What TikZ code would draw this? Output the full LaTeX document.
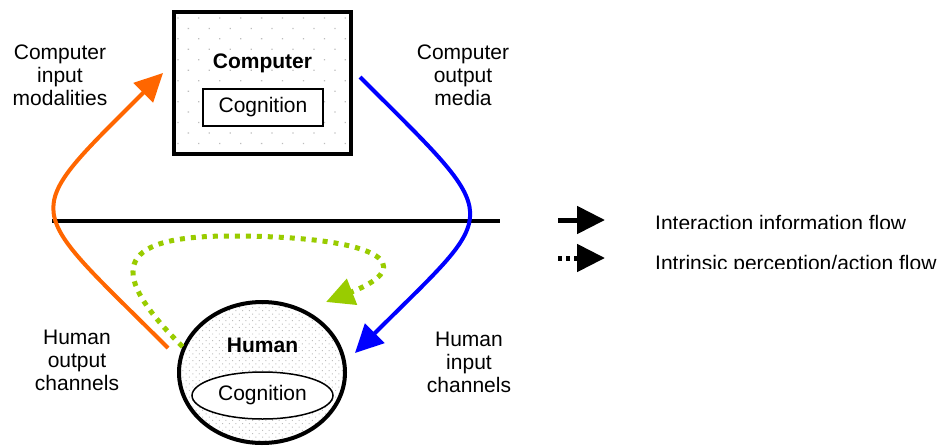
\documentclass[tikz,border=0pt]{standalone}
\usepackage{fontspec}
\setmainfont{Liberation Sans}
\usetikzlibrary{arrows.meta, shapes.geometric, patterns.meta}
\definecolor{inputC}{HTML}{FF6600}
\definecolor{outputC}{HTML}{0000FF}
\definecolor{intrinsicC}{HTML}{99CC00}
\definecolor{frameC}{HTML}{000000}
\definecolor{dotC}{HTML}{BDBDBD}
\definecolor{labelC}{HTML}{000000}
\def\lwFrame{4pt}
\def\lwInner{1.5pt}
\def\lwFlow{4pt}
\def\lwDot{5pt}
\def\lwDivider{3.5pt}
\def\lwLegend{5pt}

\begin{document}
\begin{tikzpicture}[x=1pt, y=-1pt, font=\fontsize{21}{23}\selectfont,
  lbl/.style={labelC, align=center, anchor=north, inner sep=0pt},
  tipBig/.style={-{Triangle[length=28pt, width=27pt]}},
  intrFlow/.style={intrinsicC, line width=\lwDot, dash pattern=on 5pt off 6pt}]

  \useasboundingbox (0,0) rectangle (942,447);

  % Divider between computer and human side
  \draw[frameC, line width=\lwDivider] (52,221) -- (500,221);

  % Computer
  \node[draw=frameC, line width=\lwFrame, minimum width=177pt, minimum height=142pt, inner sep=0pt,
    pattern={Dots[distance=14.8pt, angle=45, radius=0.9pt]}, pattern color=dotC]
    (computer) at (262.5,83) {};
  \node[labelC, anchor=base, inner sep=0pt, font=\fontsize{21}{23}\selectfont\bfseries]
    (computerLbl) at (262.5,68) {Computer};
  \node[draw=frameC, line width=\lwInner, fill=white, minimum width=120pt, minimum height=37pt, inner sep=0pt]
    (computerCog) at (263,107.5) {Cognition};

  % Human
  \node[ellipse, draw=frameC, line width=\lwFrame, minimum width=166pt, minimum height=141pt, inner sep=0pt,
    pattern={Dots[distance=4.7pt, angle=45, radius=0.7pt]}, pattern color=dotC]
    (human) at (262,372.5) {};
  \node[labelC, anchor=base, inner sep=0pt, font=\fontsize{21}{23}\selectfont\bfseries]
    (humanLbl) at (262.5,352) {Human};
  \node[ellipse, draw=frameC, line width=\lwInner, fill=white, minimum width=141pt, minimum height=47pt, inner sep=0pt]
    (humanCog) at (262.5,395.5) {Cognition};

  % Flow end points
  \coordinate (hOutPt) at (168,348);
  \coordinate (cInPt)  at (163,73);
  \coordinate (cOutPt) at (360,77);
  \coordinate (hInPt)  at (355,353);
  \coordinate (intrEnd) at (326,302);

  % --- interaction flows ---
  \draw[inputC, line width=\lwFlow, tipBig]
    (hOutPt) .. controls (22,202) and (17,219) .. (cInPt);
  \draw[outputC, line width=\lwFlow, tipBig]
    (cOutPt) .. controls (507,224) and (502,206) .. (hInPt);

  % --- intrinsic perception/action loop ---
  \draw[intrFlow, tipBig]
    (human.162) .. controls (110,275) and (110,236) .. (230,236)
    .. controls (380,236) and (420,265) .. (intrEnd);

  % Labels
  \node[lbl] (compIn)  at (60,45)  {Computer\\input\\modalities};
  \node[lbl] (compOut) at (463,45) {Computer\\output\\media};
  \node[lbl] (humOut)  at (77,330) {Human\\output\\channels};
  \node[lbl] (humIn)   at (469,332) {Human\\input\\channels};

  % Legend
  \draw[frameC, line width=\lwLegend, tipBig] (558,220) -- (605,220);
  \draw[frameC, line width=\lwLegend, dash pattern=on 4pt off 4pt, tipBig] (558,258) -- (605,258);
  \begin{scope}
    \clip (640,200) rectangle (942,228.5) (640,240) rectangle (942,268.5);
    \node[labelC, anchor=base west, inner sep=0pt] (legInter) at (655,230) {Interaction information flow};
    \node[labelC, anchor=base west, inner sep=0pt] (legIntr)  at (655,270) {Intrinsic perception/action flow};
  \end{scope}
\end{tikzpicture}
\end{document}
